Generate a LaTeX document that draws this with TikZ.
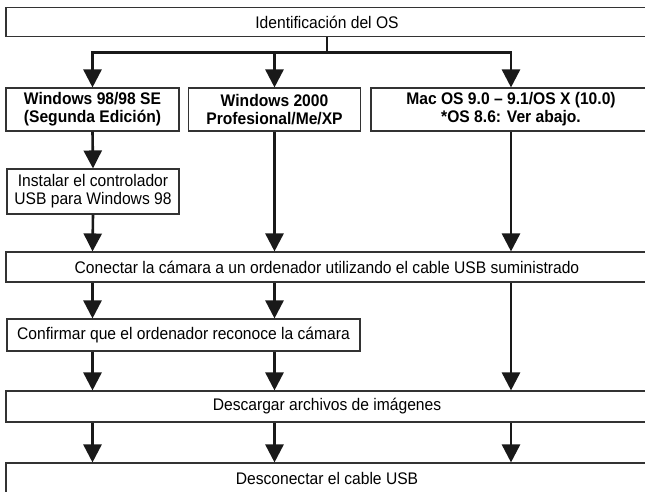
\documentclass[tikz,border=0pt]{standalone}
\usepackage{fontspec}
\setmainfont{Liberation Sans}[FakeStretch=0.93]
\usetikzlibrary{arrows.meta}
\begin{document}
\begin{tikzpicture}[x=1pt,y=-1pt,
  box/.style={draw=black!80,line width=1.1pt,inner sep=0pt,align=center,
    font=\fontsize{16.8}{18}\selectfont},
  bbox/.style={box,font=\fontsize{16.8}{18}\selectfont\bfseries},
  link/.style={draw=black!90,line width=2.6pt},
  arr/.style={link,-{Triangle[width=18pt,length=18pt]}}]
\useasboundingbox (0,0) rectangle (645,492);
\fill[white] (0,0) rectangle (645,492);
% boxes
\node[box,minimum width=642pt,minimum height=29.4pt] (top) at (327,22) {Identificación del OS};
\node[bbox,minimum width=173pt,minimum height=43pt] (w98) at (92.5,109.5) {Windows 98/98 SE\\(Segunda Edición)};
\node[bbox,minimum width=172pt,minimum height=43pt] (w2k) at (274.5,109.5) {Windows 2000\\Profesional/Me/XP};
\node[bbox,minimum width=280pt,minimum height=43pt] (mac) at (511,109.5) {Mac OS 9.0 – 9.1/OS X (10.0)\\*OS 8.6: Ver abajo.};
\node[box,minimum width=172pt,minimum height=45pt] (inst) at (93,191.5) {Instalar el controlador\\USB para Windows 98};
\node[box,minimum width=642pt,minimum height=30pt] (conn) at (327,267) {Conectar la cámara a un ordenador utilizando el cable USB suministrado};
\node[box,minimum width=353pt,minimum height=32pt] (conf) at (183.5,335) {Confirmar que el ordenador reconoce la cámara};
\node[box,minimum width=642pt,minimum height=31pt] (desc) at (327,406.5) {Descargar archivos de imágenes};
\node[box,minimum width=642pt,minimum height=31pt] (disc) at (327,478.5) {Desconectar el cable USB};
% column positions
\coordinate (cL) at (92.5,0);
\coordinate (cM) at (274.5,0);
\coordinate (cR) at (511,0);
\coordinate (j) at (327,52.3);
% connectors
\draw[link] (top.south) -- (j);
\draw[arr] (j) -| (w98.north);
\draw[arr] (j) -| (w2k.north);
\draw[arr] (j) -| (mac.north);
\draw[arr] (w98.south) -- (inst.north);
\draw[arr] (inst.south) -- (cL |- conn.north);
\draw[arr] (w2k.south) -- (cM |- conn.north);
\draw[arr] (mac.south) -- (cR |- conn.north);
\draw[arr] (cL |- conn.south) -- (cL |- conf.north);
\draw[arr] (cM |- conn.south) -- (cM |- conf.north);
\draw[arr] (cL |- conf.south) -- (cL |- desc.north);
\draw[arr] (cM |- conf.south) -- (cM |- desc.north);
\draw[arr] (cR |- conn.south) -- (cR |- desc.north);
\draw[arr] (cL |- desc.south) -- (cL |- disc.north);
\draw[arr] (cM |- desc.south) -- (cM |- disc.north);
\draw[arr] (cR |- desc.south) -- (cR |- disc.north);
\end{tikzpicture}
\end{document}
